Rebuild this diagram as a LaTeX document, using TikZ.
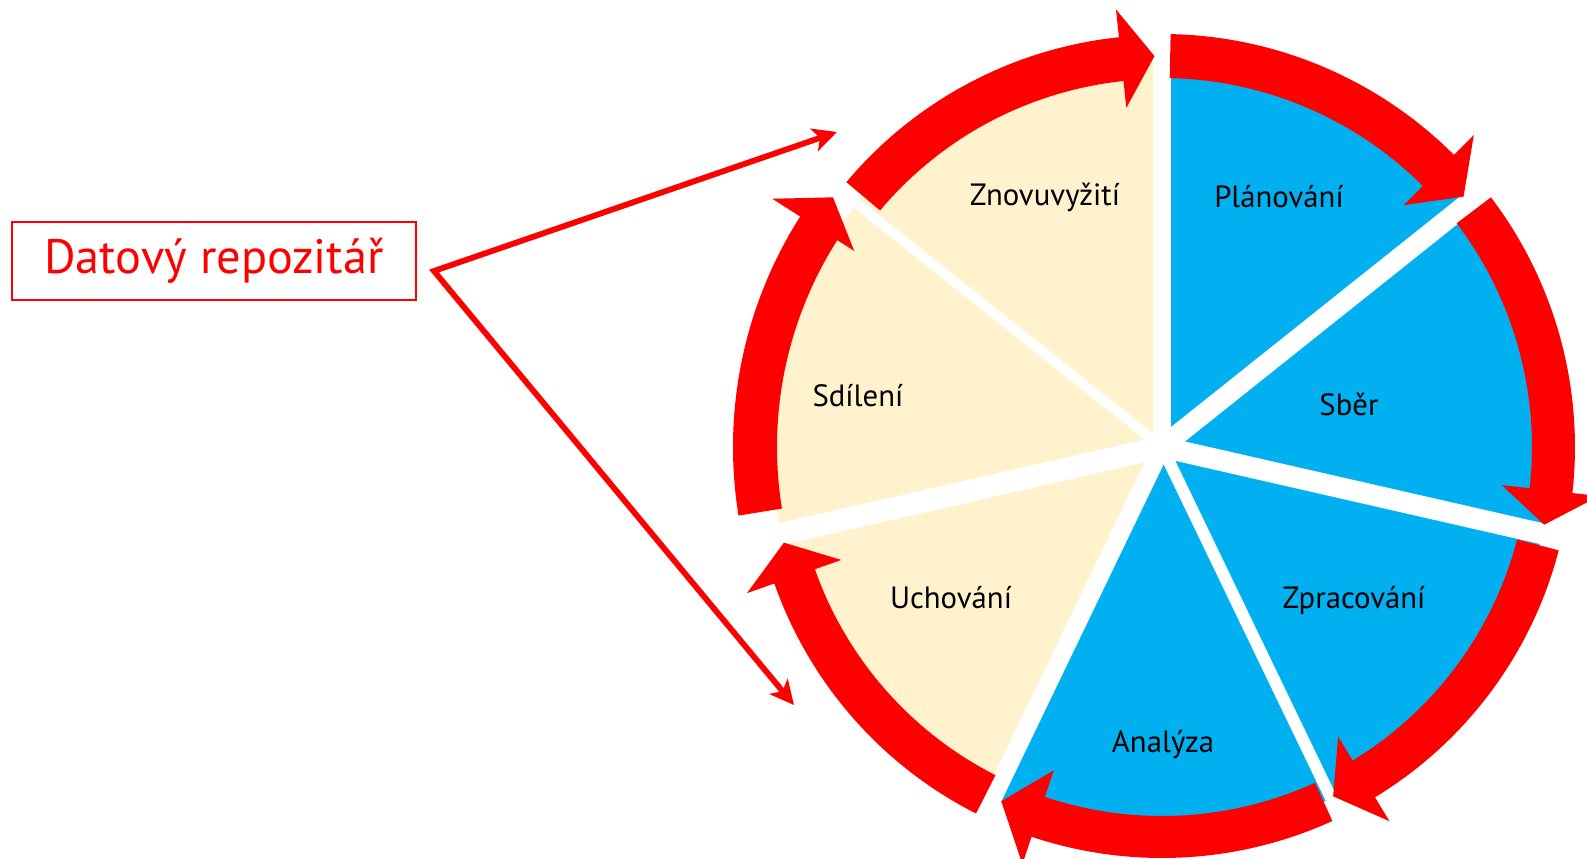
\documentclass[tikz,border=0pt]{standalone}
\usepackage{fontspec}
\setmainfont{PT Sans}
\usetikzlibrary{arrows.meta,positioning}
\definecolor{cycleblue}{HTML}{00B0F0}
\definecolor{cyclecream}{HTML}{FFF2CC}
\definecolor{cyclered}{HTML}{FF0000}
\tikzset{%
	phase/.style    = {font=\fontsize{17.5}{20}\selectfont, text=black}, % Sector label
	gap/.style      = {draw=white, line width=#1}, % Sector border
	cyclearrow/.style = {fill=cyclered, draw=none}, % Ring arrow
	repo/.style     = {draw=cyclered, line width=1.1pt, text=cyclered, minimum width=8.08cm, minimum height=1.56cm, font=\fontsize{27.5}{30}\selectfont},
	link/.style     = {draw=cyclered, line width=3.3pt, line join=miter, {Stealth[length=0.48cm,width=0.47cm,inset=0.12cm]}-{Stealth[length=0.48cm,width=0.47cm,inset=0.12cm]}},
}

\begin{document}
\begin{tikzpicture}[x=0.02cm,y=0.02cm]
	\useasboundingbox (-1162,-412) rectangle (425,447);
	% pie
	\foreach \a/\c in {90/cycleblue, 38.571/cycleblue, -12.857/cycleblue, -64.286/cycleblue, -115.714/cyclecream, -167.143/cyclecream, 141.429/cyclecream}
		\fill[\c] (0,0) -- (\a:390) arc[start angle=\a, end angle=\a-51.429, radius=390] -- cycle;
	\foreach \a/\w in {90/18, 38.571/20, -12.857/21, -64.286/12, -115.714/18, -167.143/22, 141.429/10}
		\draw[gap=\w*0.02cm] (0,0) -- (\a:400);
	\fill[white] (0,0) circle[radius=12];
	% ring arrows: start/base/tip/inner/outer/head inner/head outer/tip radius
	\foreach \s/\b/\t/\ri/\ro/\hi/\ho/\rt in {140/96/91.1/368/412/341/440/391, 88.8/45/39.7/369/413/342/441/392, 37.2/-6.4/-11.5/370/413/342/440/390, -14.6/-58.7/-63.9/367/410/339/438/389, -65.5/-108.5/-114.4/369/411/341/440/389, -116.9/-160.6/-165.8/368/411/340/440/390, 189.2/147.5/142.8/385/429/365/462/413}
		\fill[cyclearrow] (\s:\ro) arc[start angle=\s, end angle=\b, radius=\ro] -- (\b:\ho) -- (\t:\rt) -- (\b:\hi) -- (\b:\ri) arc[start angle=\b, end angle=\s, radius=\ri] -- cycle;
	% labels
	\node[phase] (plan) at (117,250) {Plánování};
	\node[phase] (collect) at (187,43) {Sběr};
	\node[phase] (process) at (192,-154) {Zpracování};
	\node[phase] (analyse) at (1,-298) {Analýza};
	\node[phase] (keepsafe) at (-211,-151) {Uchování};
	\node[phase] (sharing) at (-304,51) {Sdílení};
	\node[phase] (reuse) at (-117,250) {Znovuvyžití};
	% repository
	\node[repo] (repo) at (-948,186) {Datový repozitář};
	\coordinate (fork) at (-728,176);
	\coordinate (share) at (-325,315);
	\coordinate (keep) at (-368,-258);
	\draw[link] (share) -- (fork) -- (keep);
\end{tikzpicture}
\end{document}
